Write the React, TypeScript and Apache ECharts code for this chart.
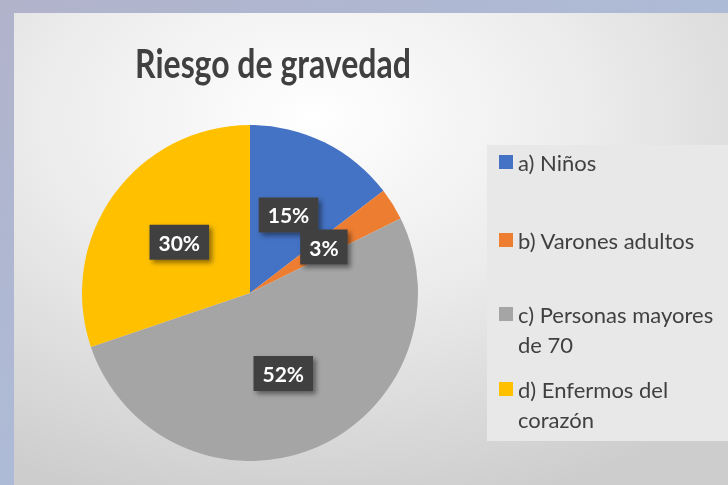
import React, { useEffect, useRef } from "react";
import * as echarts from "echarts";

const categories = ["a) Niños", "b) Varones adultos", "c) Personas mayores\nde 70", "d) Enfermos del\ncorazón"];
const values = [14.6, 3.1, 52.1, 30.2];
const colors = ["#4472c4", "#ed7d31", "#a5a5a5", "#ffc000"];
const legendTops = [147, 225, 269, 344];
const titleText = "Riesgo de gravedad";

export default function App() {
  const ref = useRef<HTMLDivElement>(null);
  useEffect(() => {
    if (!ref.current) return;
    const chart = echarts.init(ref.current, null, { renderer: "svg" });
    const font = "Lato, 'Open Sans', sans-serif";
    const legends = categories.map((name, i) => {
      const multi = name.includes("\n");
      return {
        data: [name],
        left: 499,
        top: legendTops[i],
        padding: 0,
        orient: "vertical",
        icon: "rect",
        itemWidth: 14,
        itemHeight: 14,
        selectedMode: false,
        formatter: (n: string) => (multi ? "\u00a0\n" + n : n),
        textStyle: {
          color: "#404040",
          fontSize: 22,
          fontFamily: font,
          lineHeight: 30,
        },
      };
    });
    chart.setOption({
      animation: false,
      color: colors,
      graphic: [
        {
          type: "rect",
          z: -10,
          shape: { x: 0, y: 0, width: 728, height: 485 },
          style: {
            fill: new echarts.graphic.LinearGradient(0, 0, 1, 1, [
              { offset: 0, color: "#b1b3cb" },
              { offset: 0.5, color: "#aebbd6" },
              { offset: 1, color: "#bfa9b2" },
            ]),
          },
          silent: true,
        },
        {
          type: "rect",
          z: -9,
          shape: { x: 14, y: 13, width: 714, height: 472 },
          style: {
            fill: new echarts.graphic.RadialGradient(0.42, 0.22, 0.85, [
              { offset: 0, color: "#ffffff" },
              { offset: 0.45, color: "#ececec" },
              { offset: 1, color: "#cdcdcd" },
            ]),
          },
          silent: true,
        },
        {
          type: "rect",
          z: -8,
          shape: { x: 487, y: 145, width: 241, height: 296 },
          style: { fill: "#e8e8e8" },
          silent: true,
        },
        {
          type: "text",
          z: 10,
          x: 273,
          y: 63,
          scaleX: 0.8,
          style: {
            text: titleText,
            fill: "#404040",
            font: "bold 40px " + font,
            align: "center",
            verticalAlign: "middle",
          },
        },
      ],
      legend: legends,
      series: [
        {
          type: "pie",
          center: [250, 293],
          radius: 168,
          startAngle: 90,
          clockwise: true,
          avoidLabelOverlap: false,
          minShowLabelAngle: 0,
          percentPrecision: 0,
          data: categories.map((name, i) => ({ name, value: values[i] })),
          labelLayout: { hideOverlap: false },
          label: {
            show: true,
            position: "inside",
            formatter: "{d}%",
            color: "#ffffff",
            fontSize: 21,
            fontWeight: "bold",
            fontFamily: font,
            backgroundColor: "#404040",
            padding: [7, 9],
            shadowColor: "rgba(0,0,0,0.45)",
            shadowBlur: 5,
            shadowOffsetX: 3,
            shadowOffsetY: 3,
          },
          labelLine: { show: false },
          emphasis: { disabled: true },
        },
      ],
    });
    return () => chart.dispose();
  }, []);
  return (
    <div
      ref={ref}
      style={{ position: "fixed", left: 0, top: 0, width: 728, height: 485 }}
    />
  );
}
